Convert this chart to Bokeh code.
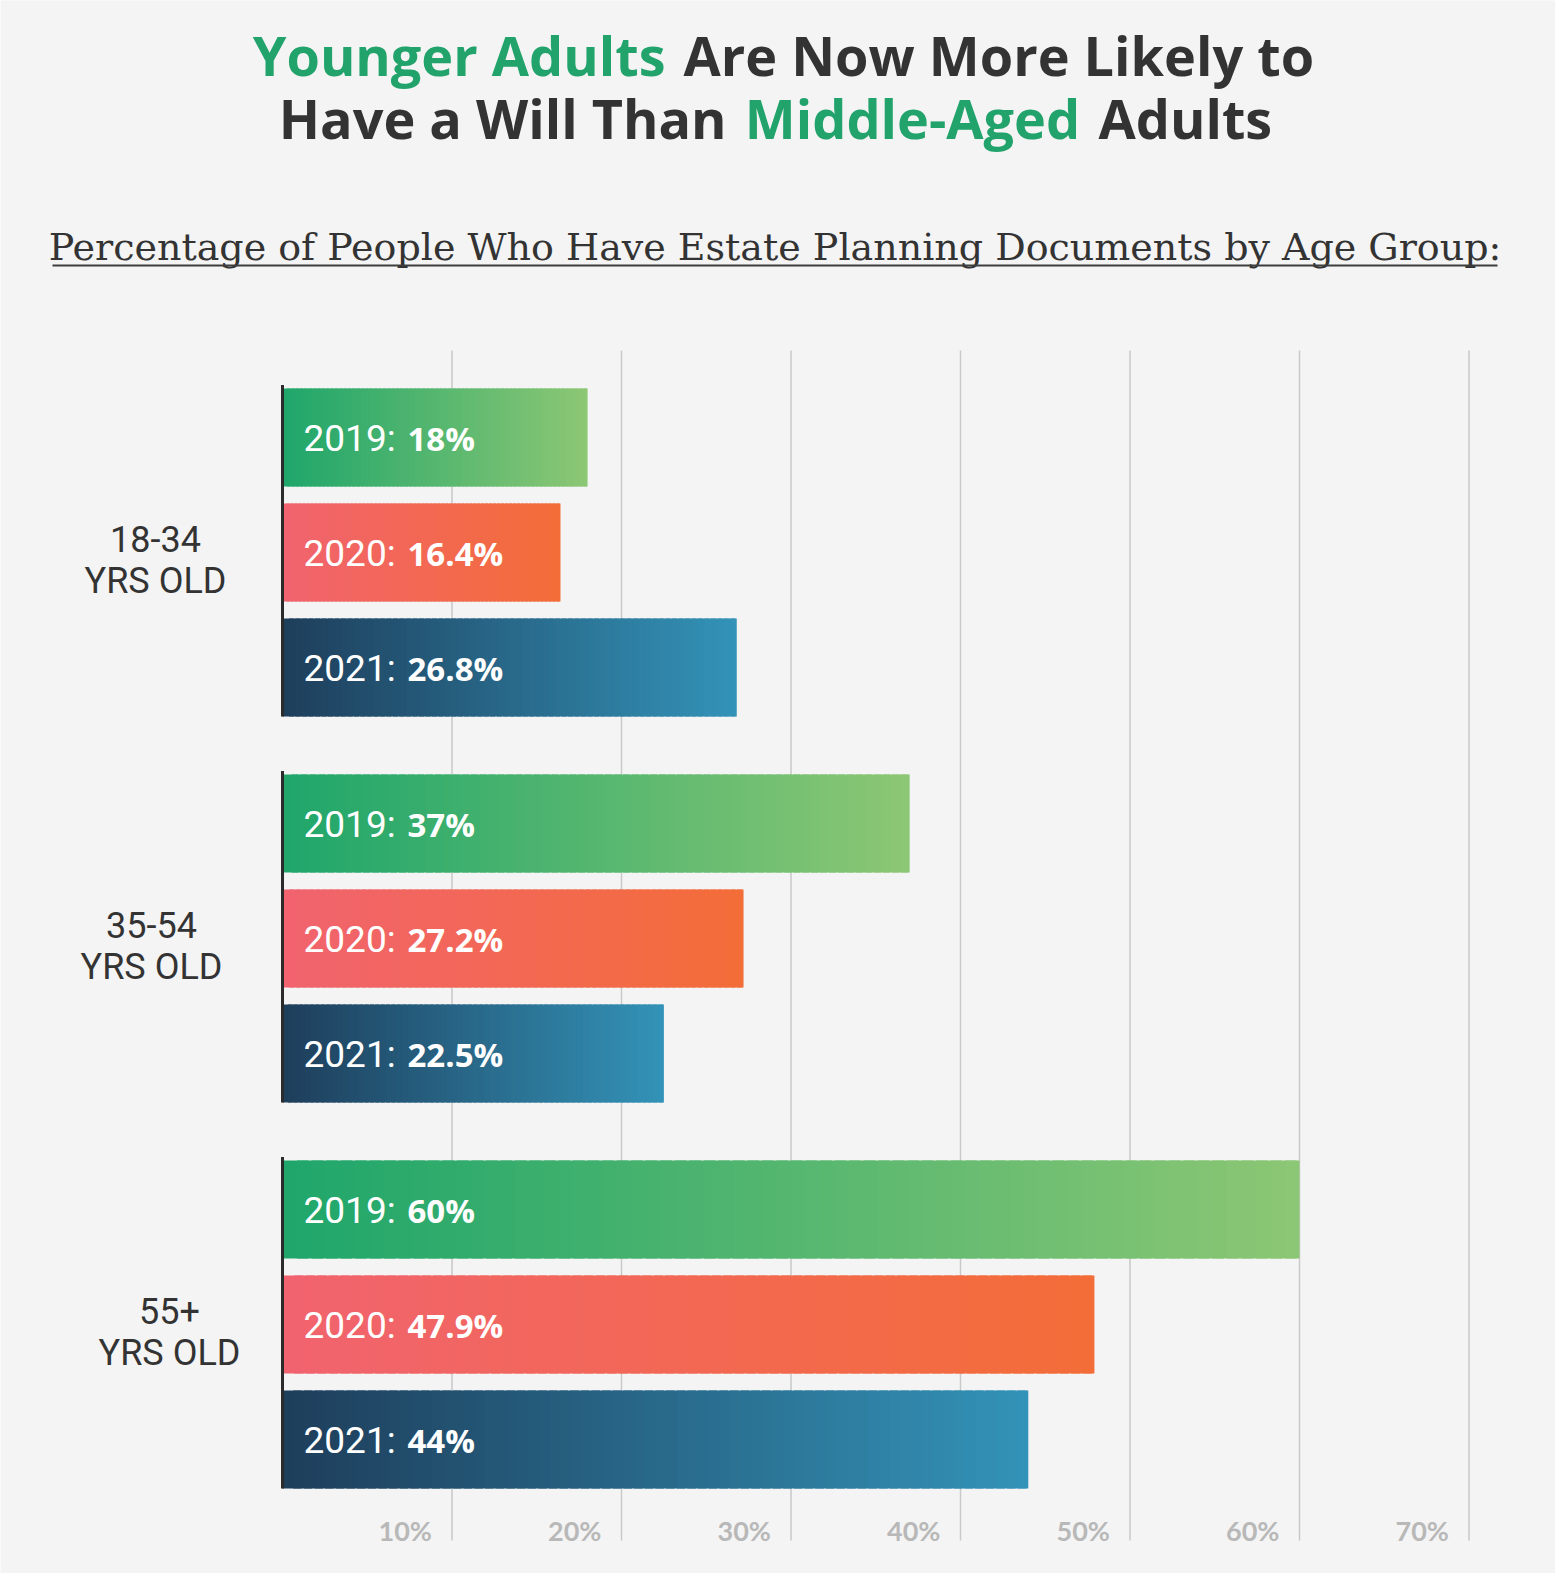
import numpy as np
from bokeh.plotting import figure
from bokeh.models import Range1d
from bokeh.embed import file_html
from bokeh.resources import INLINE
from bokeh.core.properties import value

# ---------------- data ----------------
groups = ["18-34", "35-54", "55+"]
group_suffix = "YRS OLD"
years = ["2019", "2020", "2021"]
share_2019 = [18.0, 37.0, 60.0]
share_2020 = [16.4, 27.2, 47.9]
share_2021 = [26.8, 22.5, 44.0]
labels_2019 = ["18%", "37%", "60%"]
labels_2020 = ["16.4%", "27.2%", "47.9%"]
labels_2021 = ["26.8%", "22.5%", "44%"]
tick_values = [10, 20, 30, 40, 50, 60, 70]
tick_labels = ["10%", "20%", "30%", "40%", "50%", "60%", "70%"]

title_line1 = ["Younger Adults", "Are Now More Likely to"]
title_line2 = ["Have a Will Than", "Middle-Aged", "Adults"]
subtitle = "Percentage of People Who Have Estate Planning Documents by Age Group:"

# ---------------- style ----------------
BG = "#f4f4f4"
DARK = "#333333"
GREEN = "#22a36c"
grad_start = ["#1fa66b", "#f1636f", "#1e3e5b"]
grad_end = ["#8cc774", "#f36d38", "#3393b8"]

W, H = 1555, 1573
PX_PER_PCT = 16.95      # pixels per percentage point
ZERO_PX = 282           # page x of 0 %
SLOT = 115.0            # pixels per bar slot
FIRST_BAR_PX = 437      # page y of first bar centre
GAP = 41.0 / SLOT
BAR_H = 98.0 / SLOT


def X(px):
    return (px - ZERO_PX) / PX_PER_PCT


def Y(py):
    return (py - FIRST_BAR_PX) / SLOT


def hex2rgb(h):
    h = h.lstrip("#")
    return np.array([int(h[i:i + 2], 16) for i in (0, 2, 4)], dtype=float)


def rgb2hex(c):
    return "#%02x%02x%02x" % tuple(int(round(v)) for v in c)


p = figure(width=W, height=H, min_border=0,
           x_range=Range1d(X(0), X(W)), y_range=Range1d(Y(H), Y(0)),
           output_backend="svg", toolbar_location=None,
           x_axis_location=None, y_axis_location=None)
p.grid.visible = False
p.outline_line_color = None
p.background_fill_color = BG
p.border_fill_color = BG

# ---------------- titles ----------------
common = dict(text_font=value("Open Sans"), text_font_style="bold", text_font_size="54px",
              text_baseline="alphabetic")
p.text(x=[X(665)], y=[Y(54)], text=[title_line1[0]], text_color=GREEN, text_align="right", **common)
p.text(x=[X(683)], y=[Y(54)], text=[title_line1[1]], text_color=DARK, text_align="left", **common)
p.text(x=[X(726)], y=[Y(117)], text=[title_line2[0]], text_color=DARK, text_align="right", **common)
p.text(x=[X(912)], y=[Y(117)], text=[title_line2[1]], text_color=GREEN, text_align="center", **common)
p.text(x=[X(1098)], y=[Y(117)], text=[title_line2[2]], text_color=DARK, text_align="left", **common)

p.text(x=[X(774.5)], y=[Y(246)], text=[subtitle], text_font=value("DejaVu Serif"),
       text_font_size="38px", text_color="#333333", text_align="center", text_baseline="alphabetic")
p.segment(x0=[X(52)], y0=[Y(265)], x1=[X(1497)], y1=[Y(265)], line_color="#3d3d3d", line_width=2)

# ---------------- grid lines from the ticks ----------------
p.segment(x0=tick_values, y0=[Y(350)] * len(tick_values), x1=tick_values,
          y1=[Y(1540)] * len(tick_values), line_color="#c9c9c9", line_width=1.5)

# ---------------- gradient bars ----------------
series = [share_2019, share_2020, share_2021]
series_labels = [labels_2019, labels_2020, labels_2021]

N = 70
ys, lefts, rights, colors = [], [], [], []
lab_y, lab_year, lab_val = [], [], []
for g in range(len(groups)):
    for k in range(len(years)):
        v = series[k][g]
        yc = g * (3 + GAP) + k
        s, e = hex2rgb(grad_start[k]), hex2rgb(grad_end[k])
        for i in range(N):
            f = (i + 0.5) / N
            ys.append(yc)
            lefts.append(v * i / N)
            rights.append(min(v, v * (i + 1.8) / N))
            colors.append(rgb2hex(s + (e - s) * f))
        lab_y.append(yc)
        lab_year.append(years[k] + ":")
        lab_val.append(series_labels[k][g])

p.hbar(y=ys, left=lefts, right=rights, height=BAR_H, fill_color=colors, line_color=None)

# zero baseline per group
gy0 = [g * (3 + GAP) - BAR_H / 2 - 0.03 for g in range(len(groups))]
gy1 = [g * (3 + GAP) + 2 + BAR_H / 2 for g in range(len(groups))]
p.segment(x0=[0] * len(groups), y0=gy0, x1=[0] * len(groups), y1=gy1,
          line_color="#2b2b2b", line_width=3)

# bar labels
p.text(x=[0] * len(lab_y), y=lab_y, text=lab_year, x_offset=21, y_offset=1,
       text_font=value("Roboto"), text_font_size="37px", text_color="#ffffff",
       text_align="left", text_baseline="middle")
p.text(x=[0] * len(lab_y), y=lab_y, text=lab_val, x_offset=125, y_offset=1,
       text_font=value("Open Sans"), text_font_style="bold", text_font_size="33px",
       text_color="#ffffff", text_align="left", text_baseline="middle")

# group labels
label_px = [155, 151, 169]
gx = [X(px) for px in label_px]
gc = [g * (3 + GAP) + 1 for g in range(len(groups))]
p.text(x=gx, y=gc, text=groups, y_offset=-14, text_font=value("Roboto"),
       text_font_size="36px", text_color=DARK, text_align="center", text_baseline="middle")
p.text(x=gx, y=gc, text=[group_suffix] * len(groups), y_offset=28, text_font=value("Roboto"),
       text_font_size="36px", text_color=DARK, text_align="center", text_baseline="middle")

# tick labels
p.text(x=tick_values, y=[Y(1530)] * len(tick_values), text=tick_labels, x_offset=-20,
       text_font=value("Lato"), text_font_style="bold", text_font_size="27px",
       text_color="#b8b8b8", text_align="right", text_baseline="middle")

open("out.html", "w").write(file_html(p, INLINE))
